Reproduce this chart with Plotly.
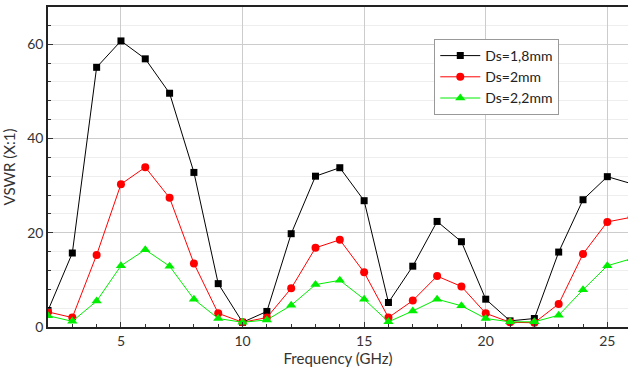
import plotly.graph_objects as go

freq = list(range(2, 27))
ds18 = [3.5, 15.7, 55.1, 60.7, 56.9, 49.6, 32.8, 9.2, 1.0, 3.3, 19.8, 32.0, 33.8, 26.8, 5.2,
        12.9, 22.4, 18.1, 5.9, 1.3, 1.8, 15.9, 27.0, 31.9, 30.4]
ds20 = [3.2, 2.0, 15.3, 30.3, 33.9, 27.4, 13.5, 2.9, 1.0, 2.0, 8.2, 16.8, 18.5, 11.6, 2.0,
        5.6, 10.8, 8.6, 2.9, 1.0, 0.9, 4.9, 15.5, 22.3, 23.3]
ds22 = [2.4, 1.2, 5.5, 13.0, 16.4, 12.9, 5.9, 1.8, 1.0, 1.5, 4.6, 9.0, 9.9, 5.9, 1.1,
        3.4, 5.9, 4.5, 1.8, 1.1, 1.1, 2.5, 7.9, 13.0, 14.5]

series = [
    ("Ds=1,8mm", ds18, "#000000", "square", 7),
    ("Ds=2mm", ds20, "#ff0000", "circle", 8),
    ("Ds=2,2mm", ds22, "#00ee00", "triangle-up", 9),
]

fig = go.Figure()
for name, vals, col, sym, sz in series:
    fig.add_trace(go.Scatter(
        x=freq, y=vals, name=name, mode="lines+markers",
        line=dict(color=col, width=1),
        marker=dict(symbol=sym, size=sz, color=col),
        cliponaxis=True,
    ))

font_fam = "Lato, Open Sans, sans-serif"
fig.update_layout(
    width=628, height=372,
    margin=dict(l=48, r=0, t=7, b=45),
    paper_bgcolor="white", plot_bgcolor="white",
    font=dict(family=font_fam, size=14, color="#333333"),
    showlegend=True,
    legend=dict(
        x=0.666, y=0.9, xanchor="left", yanchor="top",
        bgcolor="white", bordercolor="#999999", borderwidth=1,
        font=dict(size=14, color="#222222"),
        itemwidth=40, tracegroupgap=0,
    ),
)
fig.update_xaxes(
    range=[2, 25.85], tickvals=[5, 10, 15, 20, 25],
    showline=True, linecolor="#222222", linewidth=1.5, mirror=True,
    ticks="inside", ticklen=5, tickcolor="#333333",
    minor=dict(dtick=1, tick0=0, ticks="inside", ticklen=3, tickcolor="#333333", showgrid=False),
    showgrid=True, gridcolor="#cccccc", gridwidth=1, zeroline=False,
    title=dict(text="Frequency (GHz)", font=dict(size=15), standoff=4),
)
fig.update_yaxes(
    range=[0, 67.9], tickvals=[0, 20, 40, 60],
    showline=True, linecolor="#222222", linewidth=1.5,
    ticks="inside", ticklen=5, tickcolor="#333333",
    minor=dict(dtick=4, tick0=0, ticks="inside", ticklen=3, tickcolor="#333333",
               showgrid=True, gridcolor="#eeeeee", gridwidth=1),
    showgrid=True, gridcolor="#cccccc", gridwidth=1, zeroline=False,
    title=dict(text="VSWR (X:1)", font=dict(size=15), standoff=8),
)
fig.write_html("out.html", config={"displayModeBar": False},
               post_script="document.body.style.margin='0';document.body.style.overflow='hidden';")
